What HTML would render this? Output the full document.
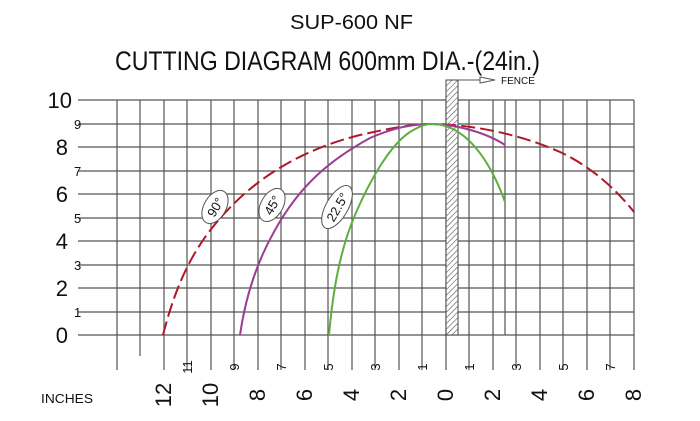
<!DOCTYPE html>
<html><head><style>html,body{margin:0;padding:0;background:#fff}svg{display:block}</style></head>
<body>
<svg width="700" height="421" viewBox="0 0 700 421" xmlns="http://www.w3.org/2000/svg" font-family="'Liberation Sans', sans-serif">
<defs>
<pattern id="h" width="4" height="4" patternUnits="userSpaceOnUse" patternTransform="rotate(45)">
<rect width="4" height="4" fill="#fff"/><line x1="0" y1="0" x2="0" y2="4" stroke="#555" stroke-width="1.2"/>
</pattern>
</defs>
<text x="290" y="29" font-size="20" textLength="123" lengthAdjust="spacingAndGlyphs" fill="#111">SUP-600 NF</text>
<text x="115" y="70" font-size="27" textLength="425" lengthAdjust="spacingAndGlyphs" fill="#111">CUTTING DIAGRAM 600mm DIA.-(24in.)</text>
<g stroke="#555" stroke-width="1.2">
<line x1="78" y1="100" x2="634" y2="100"/><line x1="78" y1="124" x2="634" y2="124"/><line x1="78" y1="147" x2="634" y2="147"/><line x1="78" y1="171" x2="634" y2="171"/><line x1="78" y1="194" x2="634" y2="194"/><line x1="78" y1="218" x2="634" y2="218"/><line x1="78" y1="241" x2="634" y2="241"/><line x1="78" y1="265" x2="634" y2="265"/><line x1="78" y1="288" x2="634" y2="288"/><line x1="78" y1="312" x2="634" y2="312"/><line x1="78" y1="335" x2="634" y2="335"/>
<line x1="117" y1="100" x2="117" y2="370"/><line x1="140" y1="100" x2="140" y2="356"/><line x1="164" y1="100" x2="164" y2="370"/><line x1="187" y1="100" x2="187" y2="370"/><line x1="211" y1="100" x2="211" y2="370"/><line x1="234" y1="100" x2="234" y2="370"/><line x1="258" y1="100" x2="258" y2="370"/><line x1="281" y1="100" x2="281" y2="370"/><line x1="305" y1="100" x2="305" y2="370"/><line x1="328" y1="100" x2="328" y2="370"/><line x1="352" y1="100" x2="352" y2="370"/><line x1="375" y1="100" x2="375" y2="370"/><line x1="399" y1="100" x2="399" y2="370"/><line x1="422" y1="100" x2="422" y2="370"/><line x1="446" y1="100" x2="446" y2="370"/><line x1="469" y1="100" x2="469" y2="370"/><line x1="493" y1="100" x2="493" y2="370"/><line x1="505" y1="100" x2="505" y2="335"/><line x1="516" y1="100" x2="516" y2="370"/><line x1="540" y1="100" x2="540" y2="370"/><line x1="563" y1="100" x2="563" y2="370"/><line x1="587" y1="100" x2="587" y2="370"/><line x1="610" y1="100" x2="610" y2="370"/><line x1="634" y1="100" x2="634" y2="370"/>
</g>
<rect x="446" y="80" width="12" height="255" fill="url(#h)" stroke="#444" stroke-width="1"/>
<line x1="458" y1="80" x2="480" y2="80" stroke="#555"/>
<polygon points="480,77 495,80 480,83" fill="#fff" stroke="#555"/>
<text x="501" y="84" font-size="10" fill="#111">FENCE</text>
<path d="M163,335 C172,300 185,262 212,228 C250,180 300,150 360,135 C395,127 415,124 430,124 C470,124 520,134 560,152 C590,166 615,188 634,212" fill="none" stroke="#b0182a" stroke-width="2" stroke-dasharray="14,5"/>
<path d="M240,335 C245,300 255,265 275,230 C300,185 330,160 370,138 C395,127 415,124 430,124 C460,124 490,135 505,145" fill="none" stroke="#9b3d92" stroke-width="2"/>
<path d="M329,335 C333,290 340,250 355,215 C370,180 390,145 410,132 C420,126 425,124 432,124 C465,124 490,160 505,202" fill="none" stroke="#5eae3e" stroke-width="2"/>
<g font-size="13" fill="#111" text-anchor="middle">
<g transform="translate(215,207) rotate(-60)"><ellipse rx="18" ry="11" fill="#fff" stroke="#555"/><text y="5">90°</text></g>
<g transform="translate(272,205) rotate(-60)"><ellipse rx="18" ry="11" fill="#fff" stroke="#555"/><text y="5">45°</text></g>
<g transform="translate(337,207) rotate(-60)"><ellipse rx="24" ry="11" fill="#fff" stroke="#555"/><text y="5">22.5°</text></g>
</g>
<g fill="#111" text-anchor="end" font-size="22">
<text x="72" y="108">10</text><text x="68" y="155">8</text><text x="68" y="202">6</text><text x="68" y="249">4</text><text x="68" y="296">2</text><text x="68" y="343">0</text>
</g>
<g fill="#111" font-size="13">
<text x="74" y="129">9</text><text x="74" y="176">7</text><text x="74" y="223">5</text><text x="74" y="270">3</text><text x="74" y="317">1</text>
</g>
<g fill="#111" font-size="13" text-anchor="middle">
<text transform="translate(192,367) rotate(-90)">11</text><text transform="translate(239,367) rotate(-90)">9</text><text transform="translate(286,367) rotate(-90)">7</text><text transform="translate(333,367) rotate(-90)">5</text><text transform="translate(380,367) rotate(-90)">3</text><text transform="translate(427,367) rotate(-90)">1</text><text transform="translate(474,367) rotate(-90)">1</text><text transform="translate(521,367) rotate(-90)">3</text><text transform="translate(568,367) rotate(-90)">5</text><text transform="translate(615,367) rotate(-90)">7</text>
</g>
<g fill="#111" font-size="22" text-anchor="middle">
<text transform="translate(171,395) rotate(-90)">12</text><text transform="translate(218,395) rotate(-90)">10</text><text transform="translate(265,395) rotate(-90)">8</text><text transform="translate(312,395) rotate(-90)">6</text><text transform="translate(359,395) rotate(-90)">4</text><text transform="translate(406,395) rotate(-90)">2</text><text transform="translate(453,395) rotate(-90)">0</text><text transform="translate(500,395) rotate(-90)">2</text><text transform="translate(547,395) rotate(-90)">4</text><text transform="translate(594,395) rotate(-90)">6</text><text transform="translate(641,395) rotate(-90)">8</text>
</g>
<text x="41" y="403" font-size="13" fill="#111" textLength="52" lengthAdjust="spacingAndGlyphs">INCHES</text>
</svg>
</body></html>
